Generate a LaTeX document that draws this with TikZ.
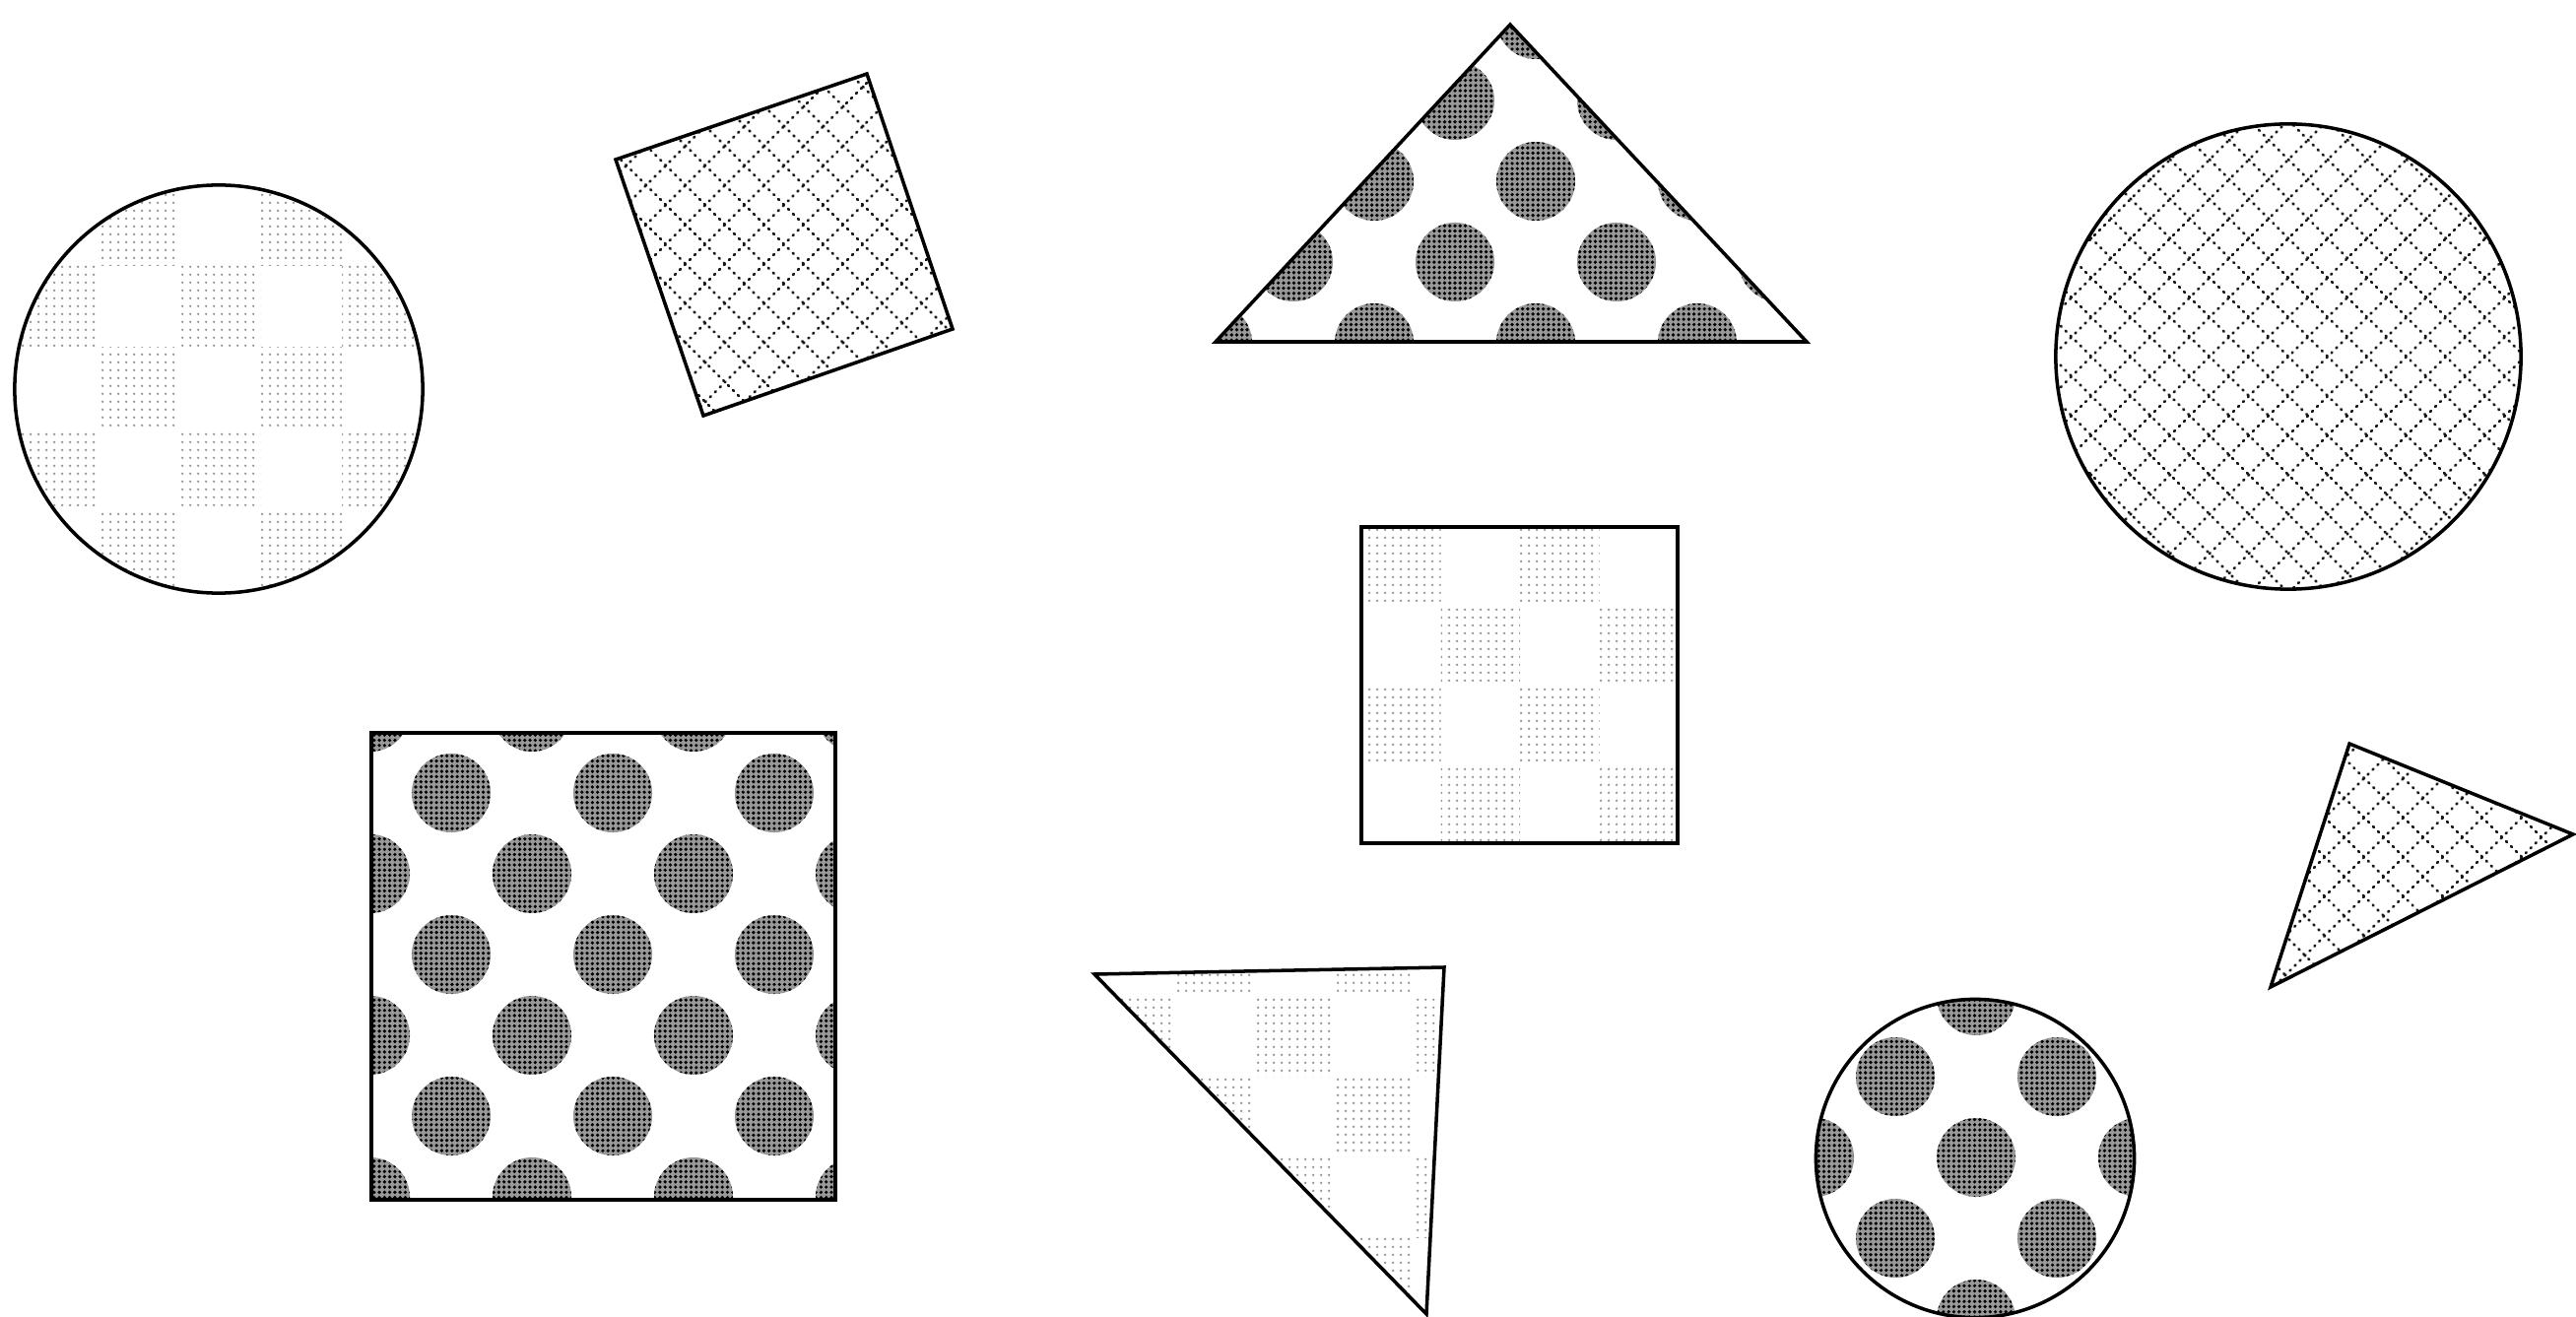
\documentclass[tikz,border=0pt]{standalone}
\usetikzlibrary{patterns}
\pgfdeclarepatternformonly{tinydots}{\pgfqpoint{-1pt}{-1pt}}{\pgfqpoint{1.3pt}{1.3pt}}{\pgfqpoint{2.3pt}{2.3pt}}{\pgfpathcircle{\pgfpointorigin}{0.42pt}\pgfusepath{fill}}
\pgfdeclarepatternformonly{halftone}{\pgfqpoint{-0.75pt}{-0.75pt}}{\pgfqpoint{0.75pt}{0.75pt}}{\pgfqpoint{1.5pt}{1.5pt}}{\pgfpathcircle{\pgfpointorigin}{0.52pt}\pgfusepath{fill}}
\tikzset{
  outline/.style={draw=black,line width=1pt},
  checkfill/.style={pattern=tinydots,pattern color=black!40},
  polka/.style={fill=black!40,postaction={pattern=halftone,pattern color=black}},
  latt/.style={draw=black!90,line width=0.75pt,line cap=round,dash pattern=on 0.35pt off 1.65pt},
}
% checkerboard: x0, y0, cell, last col, last row, parity
\newcommand\mycheckers[6]{%
  \foreach \ci in {0,...,#4}{\foreach \cj in {0,...,#5}{%
    \pgfmathtruncatemacro\cpar{mod(\ci+\cj,2)}%
    \ifnum\cpar=#6\relax
      \fill[checkfill] ({#1+\ci*#3},{#2+\cj*#3}) rectangle ++(#3,#3);
    \fi}}}
% polka dots: x0, y0, last col, last row
\newcommand\mypolka[4]{%
  \foreach \pc in {0,...,#3}{\foreach \pr in {0,...,#4}{%
    \pgfmathsetmacro\ppx{#1+\pc*164+mod(\pr,2)*82}%
    \pgfmathsetmacro\ppy{#2+\pr*82}%
    \fill[polka] (\ppx,\ppy) circle (0.4cm);
  }}}
% diamond lattice: cx, cy, half size, count
\newcommand\mylattice[4]{%
  \foreach \k in {-#4,...,#4}{%
    \draw[latt] ({#1+\k*40-#3},{#2-#3}) -- ({#1+\k*40+#3},{#2+#3});
    \draw[latt] ({#1+\k*40-#3},{#2+#3}) -- ({#1+\k*40+#3},{#2-#3});
  }}
\begin{document}
\begin{tikzpicture}[x=0.01cm,y=-0.01cm]
\useasboundingbox (0,0) rectangle (2615,1337);
\fill[white] (0,0) rectangle (2615,1337);

% left circle, checkered
\coordinate (lc) at (222,395);
\begin{scope}
  \clip (lc) circle (2.07cm);
  \mycheckers{15}{187}{83}{4}{4}{1}
\end{scope}
\draw[outline] (lc) circle (2.07cm);

% rotated square, lattice
\coordinate (rs1) at (625,162);
\coordinate (rs2) at (880,75);
\coordinate (rs3) at (967,334);
\coordinate (rs4) at (714,422);
\begin{scope}
  \clip (rs1) -- (rs2) -- (rs3) -- (rs4) -- cycle;
  \mylattice{796}{248}{200}{11}
\end{scope}
\draw[outline] (rs1) -- (rs2) -- (rs3) -- (rs4) -- cycle;

% top triangle, polka dots
\coordinate (tt1) at (1533,25);
\coordinate (tt2) at (1834,347);
\coordinate (tt3) at (1234,347);
\begin{scope}
  \clip (tt1) -- (tt2) -- (tt3) -- cycle;
  \mypolka{1231}{20}{3}{4}
\end{scope}
\draw[outline] (tt1) -- (tt2) -- (tt3) -- cycle;

% right circle, lattice
\coordinate (rc) at (2323,362);
\begin{scope}
  \clip (rc) circle (2.36cm);
  \mylattice{2323}{362}{245}{13}
\end{scope}
\draw[outline] (rc) circle (2.36cm);

% centre square, checkered
\coordinate (cs1) at (1382,535);
\coordinate (cs2) at (1703,856);
\begin{scope}
  \clip (cs1) rectangle (cs2);
  \mycheckers{1382}{535}{80.5}{3}{3}{0}
\end{scope}
\draw[outline] (cs1) rectangle (cs2);

% big square, polka dots
\coordinate (bs1) at (377,744);
\coordinate (bs2) at (848,1218);
\begin{scope}
  \clip (bs1) rectangle (bs2);
  \mypolka{376}{723}{3}{6}
\end{scope}
\draw[outline] (bs1) rectangle (bs2);

% bottom triangle, checkered
\coordinate (bt1) at (1111,989);
\coordinate (bt2) at (1466,982);
\coordinate (bt3) at (1448,1334);
\begin{scope}
  \clip (bt1) -- (bt2) -- (bt3) -- cycle;
  \mycheckers{1108.5}{930}{81.5}{4}{5}{1}
\end{scope}
\draw[outline] (bt1) -- (bt2) -- (bt3) -- cycle;

% right triangle, lattice
\coordinate (rt1) at (2385,755);
\coordinate (rt2) at (2612,847);
\coordinate (rt3) at (2305,1002);
\begin{scope}
  \clip (rt1) -- (rt2) -- (rt3) -- cycle;
  \mylattice{2440}{870}{200}{11}
\end{scope}
\draw[outline] (rt1) -- (rt2) -- (rt3) -- cycle;

% bottom circle, polka dots
\coordinate (bc) at (2005,1176);
\begin{scope}
  \clip (bc) circle (1.615cm);
  \mypolka{1678}{1011}{3}{4}
\end{scope}
\draw[outline] (bc) circle (1.615cm);
\end{tikzpicture}
\end{document}
